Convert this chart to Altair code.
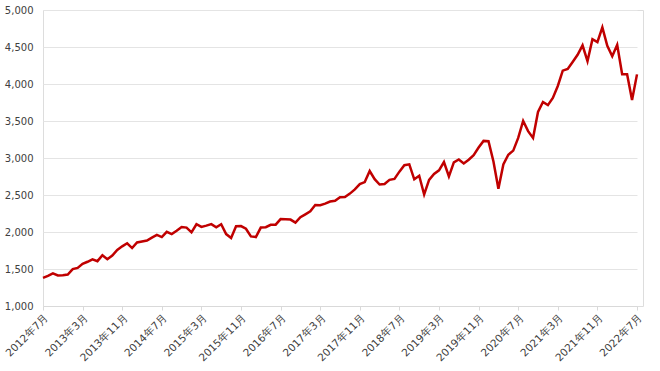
import altair as alt
import pandas as pd

# Monthly closes, July 2012 .. July 2022
years = list(range(2012, 2023))
values = [
    # 2012 Jul-Dec
    1379, 1407, 1441, 1412, 1416, 1426,
    # 2013
    1498, 1515, 1569, 1598, 1631, 1606, 1686, 1633, 1682, 1757, 1806, 1848,
    # 2014
    1783, 1859, 1872, 1884, 1924, 1960, 1931, 2003, 1972, 2018, 2068, 2059,
    # 2015
    1995, 2105, 2068, 2086, 2107, 2063, 2104, 1972, 1920, 2079, 2080, 2044,
    # 2016
    1940, 1932, 2060, 2065, 2097, 2099, 2174, 2171, 2168, 2126, 2199, 2239,
    # 2017
    2279, 2364, 2363, 2384, 2412, 2423, 2470, 2472, 2519, 2575, 2648, 2674,
    # 2018
    2824, 2714, 2641, 2648, 2705, 2718, 2816, 2902, 2914, 2712, 2760, 2507,
    # 2019
    2704, 2784, 2834, 2946, 2752, 2942, 2980, 2926, 2977, 3038, 3141, 3231,
    # 2020
    3226, 2954, 2585, 2912, 3044, 3100, 3271, 3500, 3363, 3270, 3622, 3756,
    # 2021
    3714, 3811, 3973, 4181, 4204, 4298, 4395, 4523, 4308, 4605, 4567, 4766,
    # 2022 Jan-Jul
    4516, 4374, 4530, 4132, 4132, 3785, 4130,
]

months = []
for y in years:
    for m in range(1, 13):
        if (y == 2012 and m < 7) or (y == 2022 and m > 7):
            continue
        months.append(f"{y}年{m}月")

tick_labels = [
    "2012年7月", "2013年3月", "2013年11月", "2014年7月", "2015年3月", "2015年11月",
    "2016年7月", "2017年3月", "2017年11月", "2018年7月", "2019年3月", "2019年11月",
    "2020年7月", "2021年3月", "2021年11月", "2022年7月",
]

df = pd.DataFrame({"month": months, "value": values})

FONT = "DejaVu Sans"

chart = (
    alt.Chart(df)
    .mark_line(color="#C00000", strokeWidth=2.5, strokeJoin="miter")
    .encode(
        x=alt.X(
            "month:O",
            sort=None,
            scale=alt.Scale(type="point", padding=0, range=[0, 594]),
            axis=alt.Axis(
                values=tick_labels,
                title=None,
                labelAngle=-45,
                labelAlign="right",
                labelBaseline="top",
                labelPadding=2,
                labelFontSize=10.5,
                labelFont=FONT,
                labelColor="#404040",
                domain=True,
                domainColor="#d9d9d9",
                tickColor="#d9d9d9",
                tickSize=4,
                grid=False,
            ),
        ),
        y=alt.Y(
            "value:Q",
            scale=alt.Scale(domain=[1000, 5000], nice=False, zero=False),
            axis=alt.Axis(
                values=[1000, 1500, 2000, 2500, 3000, 3500, 4000, 4500, 5000],
                format=",.0f",
                title=None,
                domain=False,
                ticks=False,
                labelPadding=10,
                labelFontSize=10,
                labelFont=FONT,
                labelColor="#404040",
                gridColor="#e4e4e4",
                gridWidth=1,
            ),
        ),
    )
    .properties(
        width=600,
        height=296,
        autosize=alt.AutoSizeParams(type="none"),
        padding={"left": 43, "top": 10, "right": 17, "bottom": 65},
    )
    .configure_view(stroke=None)
    .configure(background="white")
)

chart.save("out.html", embed_options={"renderer": "svg", "actions": False})
